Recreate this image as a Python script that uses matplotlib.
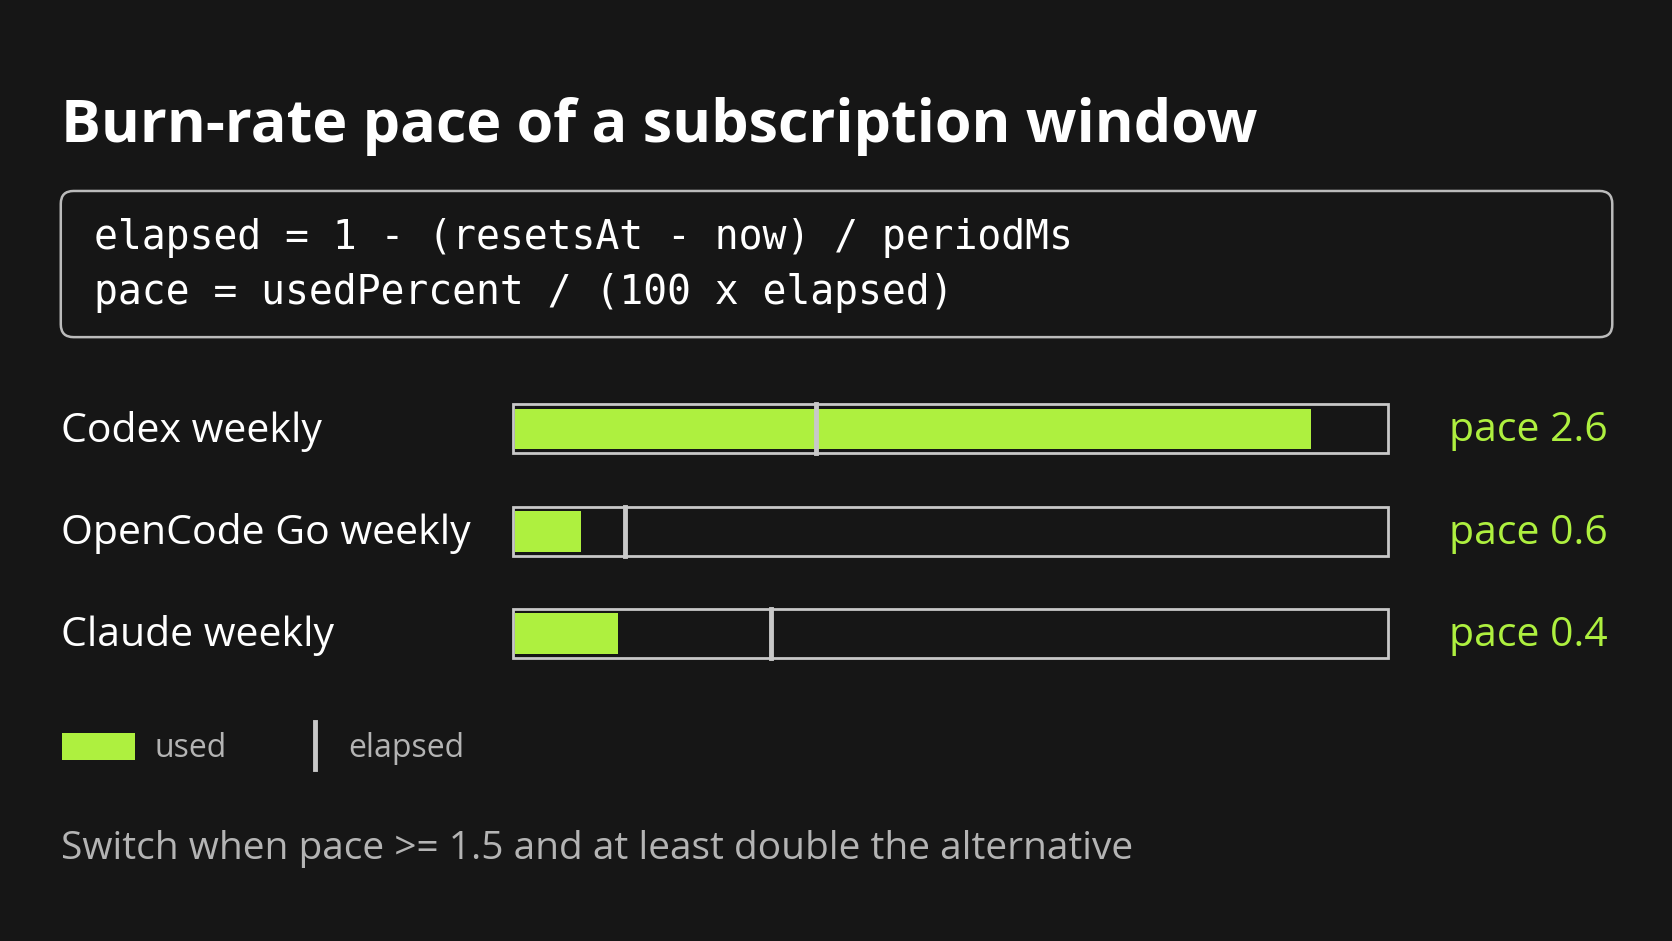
import matplotlib
matplotlib.use("Agg")
import matplotlib.pyplot as plt
from matplotlib.patches import Rectangle, FancyBboxPatch

labels = ["Codex weekly", "OpenCode Go weekly", "Claude weekly"]
used_pct = [91.2, 7.8, 12.0]
elapsed = [0.346, 0.128, 0.295]
pace = [2.6, 0.6, 0.4]

BG, GREEN, EDGE, GREY = "#161616", "#aef03f", "#c8c8c8", "#b4b4b4"
plt.rcParams["font.family"] = ["Open Sans", "DejaVu Sans"]

fig = plt.figure(figsize=(16.72, 9.41), dpi=100, facecolor=BG)
ax = fig.add_axes([0, 0, 1, 1])
ax.set_xlim(0, 1568); ax.set_ylim(882, 0); ax.axis("off")
ax.set_facecolor(BG)

ax.text(57, 119, "Burn-rate pace of a subscription window", color="white",
        fontsize=42.7, fontweight="bold", va="center")
ax.add_patch(FancyBboxPatch((57, 179), 1455, 137, boxstyle="round,pad=0,rounding_size=12",
                            fc=BG, ec="#bbbbbb", lw=1.8))
mono = dict(family="DejaVu Sans Mono", color="white", fontsize=28.6, va="center")
ax.text(88, 223, "elapsed = 1 - (resetsAt - now) / periodMs", **mono)
ax.text(88, 275, "pace = usedPercent / (100 x elapsed)", **mono)

x0, x1, h = 481, 1302, 46
for i, (lab, u, e, p) in enumerate(zip(labels, used_pct, elapsed, pace)):
    yc = 402 + i * 96
    ax.text(57, yc + 2, lab, color="white", fontsize=29.5, fontweight="medium", va="center")
    ax.add_patch(Rectangle((x0, yc - h / 2), x1 - x0, h, fc=BG, ec=EDGE, lw=2))
    ax.add_patch(Rectangle((x0 + 2, yc - h / 2 + 4), (x1 - x0) * u / 100 - 2, h - 8,
                           fc=GREEN, ec="none"))
    ex = x0 + (x1 - x0) * e
    ax.plot([ex, ex], [yc - h / 2, yc + h / 2], color=EDGE, lw=3.5)
    ax.text(1508, yc + 2, f"pace {p}", color=GREEN, fontsize=29.5, fontweight="medium",
            va="center", ha="right")

ax.add_patch(Rectangle((58, 687), 69, 25, fc=GREEN, ec="none"))
ax.text(145, 702, "used", color=GREY, fontsize=23, va="center")
ax.plot([295, 295], [677, 721], color=EDGE, lw=3.5)
ax.text(327, 702, "elapsed", color=GREY, fontsize=23, va="center")
ax.text(57, 796, "Switch when pace >= 1.5 and at least double the alternative",
        color=GREY, fontsize=28, va="center")

fig.savefig("out.png", facecolor=BG)
